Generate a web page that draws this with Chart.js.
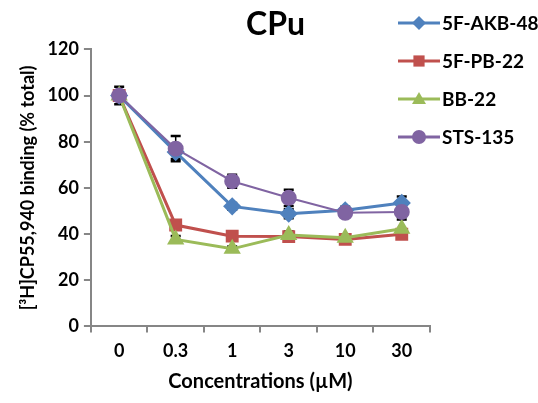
<!DOCTYPE html>
<html>
<head>
<meta charset="utf-8">
<script src="https://cdn.jsdelivr.net/npm/chart.js@4/dist/chart.umd.min.js"></script>
<style>
  html, body { margin: 0; padding: 0; background: #fff; }
  #wrap { width: 538px; height: 403px; }
</style>
</head>
<body>
<div id="wrap"><canvas id="myChart" width="538" height="403"></canvas></div>
<script>
// Datos
const concentrations = ['0', '0.3', '1', '3', '10', '30'];
const akb48 = [100, 75.5, 52, 48.8, 50.3, 53.5];
const pb22 = [100, 43.9, 39.1, 38.9, 37.7, 39.9];
const bb22 = [100, 37.7, 33.6, 39.6, 38.4, 42.3];
const sts135 = [100, 77, 62.9, 55.7, 49.2, 49.6];
// Error (SEM) aproximado
const akb48Err = [2, 3, 1.5, 2, 1.5, 2.8];
const pb22Err = [2, 1.5, 1.5, 1.5, 1.5, 1.5];
const bb22Err = [1.5, 1.5, 1, 1.5, 1, 4];
const sts135Err = [3.8, 5.5, 2.8, 3.5, 1.5, 2];
const yTicks = [0, 20, 40, 60, 80, 100, 120];

const FONT = 'Lato, "Open Sans", sans-serif';

// Barras de error dibujadas con las escalas de la gráfica
const errorBars = {
    id: 'errorBars',
    beforeDatasetsDraw(chart) {
        const ctx = chart.ctx;
        const yScale = chart.scales.y;
        ctx.save();
        ctx.strokeStyle = '#000';
        chart.data.datasets.forEach((ds, i) => {
            const meta = chart.getDatasetMeta(i);
            meta.data.forEach((pt, j) => {
                const v = ds.data[j];
                const e = ds.errors[j];
                const yTop = yScale.getPixelForValue(v + e);
                const yBot = yScale.getPixelForValue(v - e);
                ctx.lineWidth = 1.5;
                ctx.beginPath();
                ctx.moveTo(pt.x, yTop);
                ctx.lineTo(pt.x, yBot);
                ctx.stroke();
                ctx.lineWidth = 2.5;
                ctx.beginPath();
                ctx.moveTo(pt.x - 5, yTop);
                ctx.lineTo(pt.x + 5, yTop);
                ctx.moveTo(pt.x - 5, yBot);
                ctx.lineTo(pt.x + 5, yBot);
                ctx.stroke();
            });
        });
        ctx.restore();
    }
};

function drawMarker(ctx, style, x, y, r, color) {
    ctx.fillStyle = color;
    ctx.beginPath();
    if (style === 'rectRot') {
        ctx.moveTo(x, y - r); ctx.lineTo(x + r, y); ctx.lineTo(x, y + r); ctx.lineTo(x - r, y);
    } else if (style === 'rect') {
        ctx.rect(x - r * 0.8, y - r * 0.8, r * 1.6, r * 1.6);
    } else if (style === 'triangle') {
        ctx.moveTo(x, y - r); ctx.lineTo(x + r, y + r * 0.7); ctx.lineTo(x - r, y + r * 0.7);
    } else {
        ctx.arc(x, y, r, 0, Math.PI * 2);
    }
    ctx.closePath();
    ctx.fill();
}

// Leyenda a la derecha, dibujada a mano
const sideLegend = {
    id: 'sideLegend',
    afterDraw(chart) {
        const ctx = chart.ctx;
        ctx.save();
        ctx.font = 'bold 19px ' + FONT;
        ctx.textBaseline = 'middle';
        chart.data.datasets.forEach((ds, i) => {
            const y = 23 + i * 38;
            ctx.strokeStyle = ds.borderColor;
            ctx.lineWidth = 3;
            ctx.beginPath();
            ctx.moveTo(398, y);
            ctx.lineTo(440, y);
            ctx.stroke();
            drawMarker(ctx, ds.pointStyle, 419, y, ds.pointRadius, ds.borderColor);
            ctx.fillStyle = '#000';
            ctx.fillText(ds.label, 442, y + 1);
        });
        ctx.restore();
    }
};

const ctx = document.getElementById('myChart').getContext('2d');
const chart = new Chart(ctx, {
    type: 'line',
    data: {
        labels: concentrations,
        datasets: [
            { label: '5F-AKB-48', data: akb48, errors: akb48Err, borderColor: '#4F81BD', backgroundColor: '#4F81BD',
              pointStyle: 'rectRot', pointRadius: 7, borderWidth: 3, order: 4 },
            { label: '5F-PB-22', data: pb22, errors: pb22Err, borderColor: '#C0504D', backgroundColor: '#C0504D',
              pointStyle: 'rect', pointRadius: 7, borderWidth: 3, order: 3 },
            { label: 'BB-22', data: bb22, errors: bb22Err, borderColor: '#9BBB59', backgroundColor: '#9BBB59',
              pointStyle: 'triangle', pointRadius: 7, borderWidth: 3, order: 2 },
            { label: 'STS-135', data: sts135, errors: sts135Err, borderColor: '#8064A2', backgroundColor: '#8064A2',
              pointStyle: 'circle', pointRadius: 7, borderWidth: 2, order: 1 }
        ]
    },
    options: {
        responsive: false,
        animation: false,
        layout: { padding: { left: 13, top: 1, bottom: 5, right: 0 } },
        elements: { line: { tension: 0 }, point: { borderWidth: 0 } },
        plugins: {
            legend: { display: false },
            tooltip: { enabled: false },
            title: {
                display: true,
                text: 'CPu',
                color: '#000',
                font: { family: FONT, size: 32, weight: 'bold' },
                padding: { top: 4, bottom: 6 }
            }
        },
        scales: {
            x: {
                offset: true,
                grid: { display: true, offset: true, drawOnChartArea: false, drawTicks: true, tickLength: 6, color: '#868686', lineWidth: 2 },
                border: { color: '#868686', width: 2 },
                ticks: { color: '#000', font: { family: FONT, size: 18, weight: 'bold' }, padding: 8 },
                title: { display: true, text: 'Concentrations (µM)', color: '#000', font: { family: FONT, size: 20, weight: 'bold' }, padding: { top: 0 } }
            },
            y: {
                min: 0,
                max: 120,
                afterBuildTicks(scale) { scale.ticks = yTicks.map(v => ({ value: v })); },
                grid: { display: true, drawOnChartArea: false, drawTicks: true, tickLength: 7, color: '#868686', lineWidth: 2 },
                border: { color: '#868686', width: 2 },
                ticks: { color: '#000', font: { family: FONT, size: 18, weight: 'bold' }, padding: 5 },
                title: { display: true, text: '[³H]CP55,940 binding (% total)', color: '#000', font: { family: FONT, size: 18, weight: 'bold' }, padding: { bottom: 4 } }
            },
            y2: {
                position: 'right',
                display: true,
                grid: { display: false },
                border: { display: false },
                ticks: { display: false },
                afterFit(scale) { scale.width = 108; }
            }
        }
    },
    plugins: [errorBars, sideLegend]
});
</script>
</body>
</html>
